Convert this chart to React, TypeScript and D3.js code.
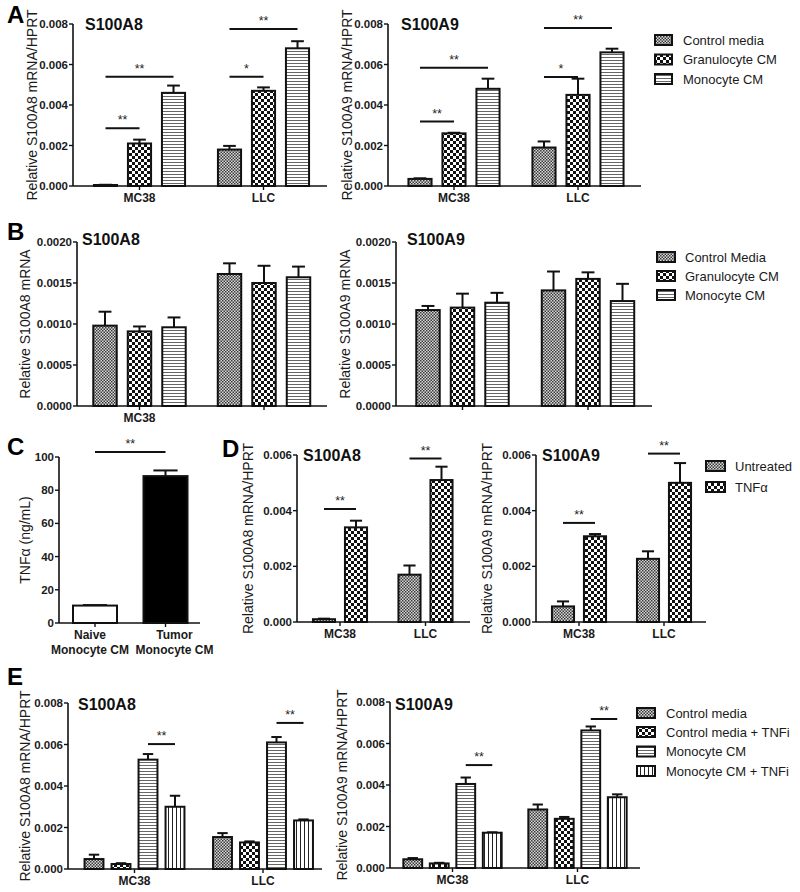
import React from "react";
import * as d3 from "d3";

// ---------- DATA ----------
const cellLines = ["MC38", "LLC"];
const seriesA = ["Control media", "Granulocyte CM", "Monocyte CM"];
const seriesB = ["Control Media", "Granulocyte CM", "Monocyte CM"];
const seriesD = ["Untreated", "TNFα"];
const seriesE = ["Control media", "Control media + TNFi", "Monocyte CM", "Monocyte CM + TNFi"];
const groupsC = ["Naive\nMonocyte CM", "Tumor\nMonocyte CM"];

// A: relative mRNA / HPRT  [MC38, LLC] x series
const aS100A8Mean = [[0.00005, 0.0021, 0.0046], [0.0018, 0.0047, 0.0068]];
const aS100A8Sem = [[0.00001, 0.00019, 0.00036], [0.00018, 0.00017, 0.00035]];
const aS100A9Mean = [[0.00035, 0.0026, 0.0048], [0.0019, 0.0045, 0.0066]];
const aS100A9Sem = [[0.00003, 0.00003, 0.0005], [0.0003, 0.0008, 0.00018]];

// B: relative mRNA
const bS100A8Mean = [[0.00098, 0.00091, 0.00096], [0.00161, 0.0015, 0.00157]];
const bS100A8Sem = [[0.00017, 0.00006, 0.00012], [0.00013, 0.00021, 0.00013]];
const bS100A9Mean = [[0.00117, 0.0012, 0.00126], [0.00141, 0.00155, 0.00128]];
const bS100A9Sem = [[0.00005, 0.00017, 0.00012], [0.00023, 0.00008, 0.00021]];

// C: TNFα (ng/mL)
const cMean = [10.5, 88.5];
const cSem = [0.3, 3.4];

// D
const dS100A8Mean = [[0.0001, 0.0034], [0.0017, 0.0051]];
const dS100A8Sem = [[0.00002, 0.00024], [0.00033, 0.00048]];
const dS100A9Mean = [[0.00056, 0.00308], [0.00227, 0.005]];
const dS100A9Sem = [[0.00018, 0.00008], [0.00027, 0.00071]];

// E
const eS100A8Mean = [[0.00048, 0.00024, 0.00527, 0.003], [0.00154, 0.00128, 0.0061, 0.00234]];
const eS100A8Sem = [[0.00021, 0.00004, 0.00027, 0.00053], [0.00019, 0.00005, 0.00026, 0.00005]];
const eS100A9Mean = [[0.00042, 0.00022, 0.00405, 0.0017], [0.00282, 0.00237, 0.00663, 0.00341]];
const eS100A9Sem = [[0.00006, 0.00003, 0.00031, 0.00002], [0.00024, 0.00009, 0.00019, 0.00014]];

// significance brackets: group, from-series, to-series, level (data units), label
type Sig = { g: number; from: number; to: number; v: number; label: string };
const aS100A8Sig: Sig[] = [
  { g: 0, from: 0, to: 1, v: 0.00285, label: "**" },
  { g: 0, from: 0, to: 2, v: 0.0054, label: "**" },
  { g: 1, from: 0, to: 1, v: 0.0054, label: "*" },
  { g: 1, from: 0, to: 2, v: 0.00775, label: "**" },
];
const aS100A9Sig: Sig[] = [
  { g: 0, from: 0, to: 1, v: 0.00318, label: "**" },
  { g: 0, from: 0, to: 2, v: 0.00584, label: "**" },
  { g: 1, from: 0, to: 1, v: 0.00538, label: "*" },
  { g: 1, from: 0, to: 2, v: 0.0078, label: "**" },
];
const cSig: Sig[] = [{ g: 0, from: 0, to: 0, v: 103, label: "**" }];
const dS100A8Sig: Sig[] = [
  { g: 0, from: 0, to: 1, v: 0.00406, label: "**" },
  { g: 1, from: 0, to: 1, v: 0.00587, label: "**" },
];
const dS100A9Sig: Sig[] = [
  { g: 0, from: 0, to: 1, v: 0.00356, label: "**" },
  { g: 1, from: 0, to: 1, v: 0.00605, label: "**" },
];
const eS100A8Sig: Sig[] = [
  { g: 0, from: 2, to: 3, v: 0.00602, label: "**" },
  { g: 1, from: 2, to: 3, v: 0.00704, label: "**" },
];
const eS100A9Sig: Sig[] = [
  { g: 0, from: 2, to: 3, v: 0.00496, label: "**" },
  { g: 1, from: 2, to: 3, v: 0.00718, label: "**" },
];

// ---------- STYLE ----------
const FONT = "'Liberation Sans', Arial, Helvetica, sans-serif";
const P_CTRL = "url(#pCtrl)";
const P_GRAN = "url(#pGran)";
const P_MONO = "url(#pMono)";
const P_MONOT = "url(#pMonoT)";

interface PanelCfg {
  groups: string[];
  series: string[];
  mean: number[][];
  sem: number[][];
  sigs: Sig[];
  fills: string[];
  groupFills?: string[];
  sigAcrossGroups?: boolean;
  labelDx?: number[];
  x0: number;
  x1: number;
  yTop: number;
  yBot: number;
  yMax: number;
  tickStep: number;
  fmt: string;
  c1: number;
  c2: number;
  step: number;
  pad: number;
  title?: string;
  titleX?: number;
  titleY?: number;
  ylabel: string;
  ylabelX: number;
  showX: boolean[];
}

function Panel({ cfg }: { cfg: PanelCfg }) {
  const y = d3.scaleLinear().domain([0, cfg.yMax]).range([cfg.yBot, cfg.yTop]);
  const gx = d3.scalePoint<string>().domain(cfg.groups).range([cfg.c1, cfg.c2]);
  const n = cfg.series.length;
  const sx = d3
    .scaleBand<string>()
    .domain(cfg.series)
    .range([(-n * cfg.step) / 2, (n * cfg.step) / 2])
    .paddingInner(cfg.pad)
    .paddingOuter(cfg.pad / 2);
  const bw = sx.bandwidth();
  const ticks = d3.range(0, cfg.yMax + cfg.tickStep / 2, cfg.tickStep);
  const f = d3.format(cfg.fmt);
  const barLeft = (gi: number, si: number) => (gx(cfg.groups[gi]) as number) + (sx(cfg.series[si]) as number);
  const barCenter = (gi: number, si: number) => barLeft(gi, si) + bw / 2;
  const cap = bw * 0.55;
  return (
    <g fontFamily={FONT}>
      {/* bars */}
      {cfg.groups.map((g, gi) =>
        cfg.series.map((s, si) => {
          const m = cfg.mean[gi][si];
          const e = cfg.sem[gi][si];
          const x = barLeft(gi, si);
          const cx = x + bw / 2;
          const fill = cfg.groupFills ? cfg.groupFills[gi] : cfg.fills[si];
          return (
            <g key={g + s}>
              <line x1={cx} x2={cx} y1={y(m)} y2={y(m + e)} stroke="#111" strokeWidth={2} />
              <line x1={cx - cap / 2} x2={cx + cap / 2} y1={y(m + e)} y2={y(m + e)} stroke="#111" strokeWidth={2} />
              <rect x={x} y={y(m)} width={bw} height={Math.max(0.5, y(0) - y(m))} fill={fill} stroke="#111" strokeWidth={2} />
            </g>
          );
        })
      )}
      {/* axes */}
      <line x1={cfg.x0} x2={cfg.x0} y1={cfg.yTop} y2={cfg.yBot} stroke="#111" strokeWidth={1.6} />
      <line x1={cfg.x0} x2={cfg.x1} y1={cfg.yBot} y2={cfg.yBot} stroke="#111" strokeWidth={1.6} />
      {ticks.map((t) => (
        <g key={t}>
          <line x1={cfg.x0 - 4} x2={cfg.x0} y1={y(t)} y2={y(t)} stroke="#111" strokeWidth={1.4} />
          <text x={cfg.x0 - 5} y={y(t)} dy="0.35em" textAnchor="end" fontSize={11.5} fontWeight="bold" fill="#1a1a1a">
            {f(t)}
          </text>
        </g>
      ))}
      {cfg.groups.map((g, gi) => {
        const cx = gx(g) as number;
        const lx = cx + (cfg.labelDx ? cfg.labelDx[gi] : 0);
        const lines = g.split("\n");
        return (
          <g key={"xl" + g}>
            <line x1={cx} x2={cx} y1={cfg.yBot} y2={cfg.yBot + 4} stroke="#111" strokeWidth={1.4} />
            {cfg.showX[gi] &&
              lines.map((l, li) => (
                <text key={li} x={lx} y={cfg.yBot + 16 + li * 15} textAnchor="middle" fontSize={12} fontWeight="bold" fill="#1a1a1a">
                  {l}
                </text>
              ))}
          </g>
        );
      })}
      {/* significance */}
      {cfg.sigs.map((s, i) => {
        const xa = cfg.sigAcrossGroups ? barCenter(0, 0) : barCenter(s.g, s.from);
        const xb = cfg.sigAcrossGroups ? barCenter(1, 0) : barCenter(s.g, s.to);
        const yy = y(s.v);
        return (
          <g key={"sig" + i}>
            <line x1={xa} x2={xb} y1={yy} y2={yy} stroke="#111" strokeWidth={2} />
            <text x={(xa + xb) / 2} y={yy - 4} textAnchor="middle" fontSize={12.5} fill="#222">
              {s.label}
            </text>
          </g>
        );
      })}
      {cfg.title && (
        <text x={cfg.titleX} y={cfg.titleY} fontSize={16} fontWeight="bold" fill="#111">
          {cfg.title}
        </text>
      )}
      <text
        transform={`translate(${cfg.ylabelX},${(cfg.yTop + cfg.yBot) / 2}) rotate(-90)`}
        textAnchor="middle"
        fontSize={14}
        fill="#1a1a1a"
      >
        {cfg.ylabel}
      </text>
    </g>
  );
}

function Legend({ x, tx, rows, labels, fills, w }: { x: number; tx: number; rows: number[]; labels: string[]; fills: string[]; w: number }) {
  return (
    <g fontFamily={FONT}>
      {labels.map((l, i) => (
        <g key={l}>
          <rect x={x} y={rows[i] - 5} width={w} height={10} fill={fills[i]} stroke="#111" strokeWidth={2} />
          <text x={tx} y={rows[i]} dy="0.35em" fontSize={13} fill="#1a1a1a">
            {l}
          </text>
        </g>
      ))}
    </g>
  );
}

const fills3 = [P_CTRL, P_GRAN, P_MONO];
const fills2 = [P_CTRL, P_GRAN];
const fills4 = [P_CTRL, P_GRAN, P_MONO, P_MONOT];

const panels: PanelCfg[] = [
  {
    groups: cellLines, series: seriesA, mean: aS100A8Mean, sem: aS100A8Sem, sigs: aS100A8Sig, fills: fills3,
    x0: 73, x1: 327, yTop: 24, yBot: 186, yMax: 0.008, tickStep: 0.002, fmt: ".3f",
    c1: 139.5, c2: 263.5, step: 34, pad: 0.32, title: "S100A8", titleX: 85, titleY: 30,
    ylabel: "Relative S100A8 mRNA/HPRT", ylabelX: 37, showX: [true, true],
  },
  {
    groups: cellLines, series: seriesA, mean: aS100A9Mean, sem: aS100A9Sem, sigs: aS100A9Sig, fills: fills3,
    x0: 388, x1: 641, yTop: 24, yBot: 186, yMax: 0.008, tickStep: 0.002, fmt: ".3f",
    c1: 454, c2: 578, step: 34, pad: 0.32, title: "S100A9", titleX: 401, titleY: 30,
    ylabel: "Relative S100A9 mRNA/HPRT", ylabelX: 352, showX: [true, true],
  },
  {
    groups: cellLines, series: seriesB, mean: bS100A8Mean, sem: bS100A8Sem, sigs: [], fills: fills3,
    x0: 77, x1: 327, yTop: 242, yBot: 406, yMax: 0.002, tickStep: 0.0005, fmt: ".4f",
    c1: 139.5, c2: 264, step: 34.5, pad: 0.32, title: "S100A8", titleX: 82, titleY: 245,
    ylabel: "Relative S100A8 mRNA", ylabelX: 30, showX: [true, false],
  },
  {
    groups: cellLines, series: seriesB, mean: bS100A9Mean, sem: bS100A9Sem, sigs: [], fills: fills3,
    x0: 396, x1: 652, yTop: 242, yBot: 406, yMax: 0.002, tickStep: 0.0005, fmt: ".4f",
    c1: 462.5, c2: 588, step: 34.5, pad: 0.32, title: "S100A9", titleX: 407, titleY: 245,
    ylabel: "Relative S100A9 mRNA", ylabelX: 350, showX: [false, false],
  },
  {
    groups: groupsC, series: ["TNFα"], mean: cMean.map((v) => [v]), sem: cSem.map((v) => [v]), sigs: cSig,
    fills: ["#fff"], groupFills: ["#fff", "#000"], sigAcrossGroups: true, labelDx: [-5, 9],
    x0: 59, x1: 200, yTop: 457, yBot: 623, yMax: 100, tickStep: 20, fmt: "d",
    c1: 95, c2: 165.5, step: 44, pad: 0,
    ylabel: "TNFα (ng/mL)", ylabelX: 30, showX: [true, true],
  },
  {
    groups: cellLines, series: seriesD, mean: dS100A8Mean, sem: dS100A8Sem, sigs: dS100A8Sig, fills: fills2,
    x0: 297, x1: 470, yTop: 455, yBot: 622, yMax: 0.006, tickStep: 0.002, fmt: ".3f",
    c1: 340, c2: 425.5, step: 32, pad: 0.31, title: "S100A8", titleX: 303, titleY: 461,
    ylabel: "Relative S100A8 mRNA/HPRT", ylabelX: 253, showX: [true, true],
  },
  {
    groups: cellLines, series: seriesD, mean: dS100A9Mean, sem: dS100A9Sem, sigs: dS100A9Sig, fills: fills2,
    x0: 536, x1: 706, yTop: 455, yBot: 622, yMax: 0.006, tickStep: 0.002, fmt: ".3f",
    c1: 579, c2: 664, step: 32, pad: 0.31, title: "S100A9", titleX: 542, titleY: 461,
    ylabel: "Relative S100A9 mRNA/HPRT", ylabelX: 492, showX: [true, true],
  },
  {
    groups: cellLines, series: seriesE, mean: eS100A8Mean, sem: eS100A8Sem, sigs: eS100A8Sig, fills: fills4,
    x0: 68, x1: 322, yTop: 703, yBot: 869, yMax: 0.008, tickStep: 0.002, fmt: ".3f",
    c1: 134.5, c2: 263, step: 27, pad: 0.3, title: "S100A8", titleX: 78, titleY: 710,
    ylabel: "Relative S100A8 mRNA/HPRT", ylabelX: 30, showX: [true, true],
  },
  {
    groups: cellLines, series: seriesE, mean: eS100A9Mean, sem: eS100A9Sem, sigs: eS100A9Sig, fills: fills4,
    x0: 390, x1: 640, yTop: 702, yBot: 868, yMax: 0.008, tickStep: 0.002, fmt: ".3f",
    c1: 452.5, c2: 577.5, step: 26.5, pad: 0.29, title: "S100A9", titleX: 395, titleY: 710,
    ylabel: "Relative S100A9 mRNA/HPRT", ylabelX: 347, showX: [true, true],
  },
];

const letters = [
  { t: "A", x: 7, y: 23 },
  { t: "B", x: 7, y: 240 },
  { t: "C", x: 7, y: 455 },
  { t: "D", x: 222, y: 457 },
  { t: "E", x: 7, y: 685 },
];

export default function App() {
  return (
    <svg width={800} height={892} style={{ position: "absolute", left: 0, top: 0, background: "#fff" }}>
      <defs>
        <pattern id="pCtrl" width={3} height={3} patternUnits="userSpaceOnUse">
          <rect width={3} height={3} fill="#d8d8d8" />
          <rect x={0} y={0} width={1.5} height={1.5} fill="#3a3a3a" />
          <rect x={1.5} y={1.5} width={1.5} height={1.5} fill="#3a3a3a" />
        </pattern>
        <pattern id="pGran" width={6} height={6} patternUnits="userSpaceOnUse">
          <rect width={6} height={6} fill="#fff" />
          <rect x={0} y={0} width={3} height={3} fill="#111" />
          <rect x={3} y={3} width={3} height={3} fill="#111" />
        </pattern>
        <pattern id="pMono" width={4} height={3} patternUnits="userSpaceOnUse">
          <rect width={4} height={3} fill="#fff" />
          <rect x={0} y={0} width={4} height={1} fill="#666" />
        </pattern>
        <pattern id="pMonoT" width={4} height={4} patternUnits="userSpaceOnUse">
          <rect width={4} height={4} fill="#fff" />
          <rect x={0} y={0} width={1} height={4} fill="#222" />
        </pattern>
      </defs>
      <rect width={800} height={892} fill="#fff" />
      {panels.map((p, i) => (
        <Panel key={i} cfg={p} />
      ))}
      <Legend x={655} tx={683} w={17} rows={[40, 59.5, 79]} labels={seriesA} fills={fills3} />
      <Legend x={657} tx={685} w={18} rows={[257, 276, 295]} labels={seriesB} fills={fills3} />
      <Legend x={706} tx={735} w={19} rows={[466, 487]} labels={seriesD} fills={fills2} />
      <Legend x={637} tx={666} w={18} rows={[713, 732, 751.5, 771]} labels={seriesE} fills={fills4} />
      {letters.map((l) => (
        <text key={l.t} x={l.x} y={l.y} fontFamily={FONT} fontSize={24} fontWeight="bold" fill="#000">
          {l.t}
        </text>
      ))}
    </svg>
  );
}
